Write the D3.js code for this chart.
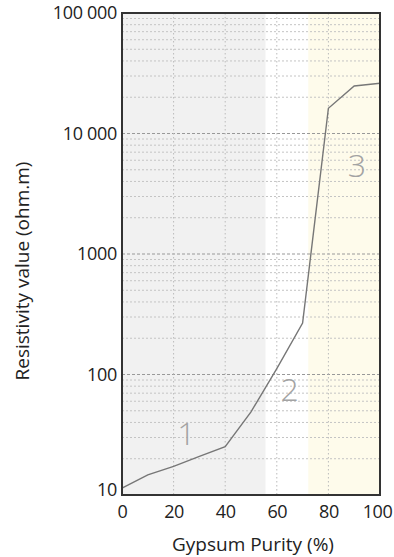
<!DOCTYPE html>
<html>
<head>
<meta charset="utf-8">
<script src="https://cdn.jsdelivr.net/npm/d3@7"></script>
<style>
  body { margin: 0; background: #fff; }
  text { font-family: "Open Sans", "Noto Sans", sans-serif; }
</style>
</head>
<body>
<div id="chart"></div>
<script>
// gypsum purity (%) vs resistivity (ohm.m)
const purity = [0, 10, 20, 30, 40, 50, 60, 70, 80, 90, 100];
const resistivity = [11.4, 14.7, 17.3, 20.9, 25.2, 49, 112, 267, 16200, 24800, 26100];

const zones = [
  {from: 0, to: 55.7, fill: '#f1f1f1'},
  {from: 55.7, to: 72.2, fill: '#ffffff'},
  {from: 72.2, to: 100, fill: '#fefbeb'}
];
const zoneLabels = [
  {name: '1', x: 25, y: 33},
  {name: '2', x: 65, y: 76},
  {name: '3', x: 91, y: 5500}
];

const xTicks = [0, 20, 40, 60, 80, 100];
const yTicks = [10, 100, 1000, 10000, 100000];
const yTickLabels = ['10', '100', '1000', '10 000', '100 000'];

const W = 394, H = 557;
const margin = {top: 13, right: 14, bottom: 62, left: 122};
const w = W - margin.left - margin.right;
const h = H - margin.top - margin.bottom;

const svg = d3.select('#chart').append('svg')
  .attr('width', W)
  .attr('height', H);

const g = svg.append('g')
  .attr('transform', `translate(${margin.left},${margin.top})`);

const x = d3.scaleLinear().domain([0, 100]).range([0, w]);
const y = d3.scaleLog().domain([10, 100000]).range([h, 0]);

// background zones
g.selectAll('rect.zone')
  .data(zones)
  .enter()
  .append('rect')
  .attr('class', 'zone')
  .attr('x', d => x(d.from))
  .attr('width', d => x(d.to) - x(d.from))
  .attr('y', 0)
  .attr('height', h)
  .attr('fill', d => d.fill);

// minor log grid
const minor = [];
for (let e = 1; e < 5; e++) {
  for (let m = 2; m < 10; m++) minor.push(m * Math.pow(10, e));
}
g.selectAll('line.minor')
  .data(minor)
  .enter()
  .append('line')
  .attr('x1', 0).attr('x2', w)
  .attr('y1', d => y(d)).attr('y2', d => y(d))
  .attr('stroke', '#c4c4c4')
  .attr('stroke-width', 1)
  .attr('stroke-dasharray', '2,2');

g.selectAll('line.major')
  .data(yTicks.slice(1, -1))
  .enter()
  .append('line')
  .attr('x1', 0).attr('x2', w)
  .attr('y1', d => y(d)).attr('y2', d => y(d))
  .attr('stroke', '#999')
  .attr('stroke-width', 1.2)
  .attr('stroke-dasharray', '3,2');

g.selectAll('line.vgrid')
  .data(xTicks.slice(1, -1))
  .enter()
  .append('line')
  .attr('x1', d => x(d)).attr('x2', d => x(d))
  .attr('y1', 0).attr('y2', h)
  .attr('stroke', '#bbb')
  .attr('stroke-width', 1)
  .attr('stroke-dasharray', '1.5,2.5');

// zone numbers
g.selectAll('text.zlab')
  .data(zoneLabels)
  .enter()
  .append('text')
  .attr('x', d => x(d.x))
  .attr('y', d => y(d.y))
  .attr('text-anchor', 'middle')
  .attr('dominant-baseline', 'central')
  .attr('font-size', 32)
  .attr('font-weight', 300)
  .attr('fill', '#a3a3a3')
  .text(d => d.name);

// data line
const line = d3.line()
  .x((d, i) => x(purity[i]))
  .y(d => y(d));

g.append('path')
  .datum(resistivity)
  .attr('d', line)
  .attr('fill', 'none')
  .attr('stroke', '#777')
  .attr('stroke-width', 1.4);

// frame
g.append('rect')
  .attr('width', w).attr('height', h)
  .attr('fill', 'none')
  .attr('stroke', '#333')
  .attr('stroke-width', 2);

// axes
const xAxis = g.append('g')
  .attr('transform', `translate(0,${h})`)
  .call(d3.axisBottom(x).tickValues(xTicks).tickSize(0).tickPadding(10));
const yAxis = g.append('g')
  .call(d3.axisLeft(y).tickValues(yTicks).tickSize(0).tickPadding(5)
    .tickFormat((d, i) => yTickLabels[i]));

[xAxis, yAxis].forEach(a => {
  a.select('.domain').remove();
  a.selectAll('text')
    .attr('font-family', '"Open Sans", "Noto Sans", sans-serif')
    .attr('font-size', 18)
    .attr('fill', '#222');
});
yAxis.selectAll('text').attr('letter-spacing', '-0.3px');
yAxis.selectAll('text').filter(d => d === 10).attr('dy', '0.05em');
xAxis.selectAll('text').attr('letter-spacing', '-0.4px');
xAxis.selectAll('text').filter(d => d === 100).attr('dx', '-3');

svg.append('text')
  .attr('x', margin.left + w / 2 + 2)
  .attr('y', 551)
  .attr('text-anchor', 'middle')
  .attr('font-size', 19)
  .attr('fill', '#222')
  .text('Gypsum Purity (%)');

svg.append('text')
  .attr('transform', `translate(29,${margin.top + h / 2 + 17}) rotate(-90)`)
  .attr('text-anchor', 'middle')
  .attr('font-size', 19)
  .attr('fill', '#222')
  .text('Resistivity value (ohm.m)');
</script>
</body>
</html>
